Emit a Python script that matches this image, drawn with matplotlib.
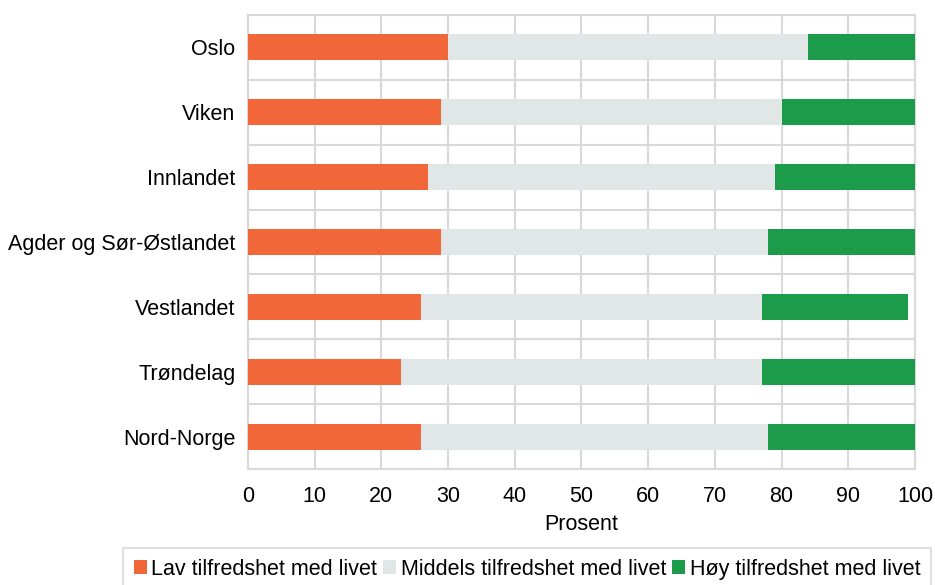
import matplotlib
matplotlib.use("Agg")
import matplotlib.pyplot as plt
import numpy as np

plt.rcParams['font.family'] = ['Liberation Sans', 'DejaVu Sans']

categories = ["Oslo", "Viken", "Innlandet", "Agder og Sør-Østlandet",
              "Vestlandet", "Trøndelag", "Nord-Norge"]
lav = [30, 29, 27, 29, 26, 23, 26]
middels = [54, 51, 52, 49, 51, 54, 52]
hoy = [16, 20, 21, 22, 22, 23, 22]
series_labels = ["Lav tilfredshet med livet", "Middels tilfredshet med livet",
                 "Høy tilfredshet med livet"]
colors = ["#F26739", "#E1E6E6", "#1C9C4A"]
xticks = [0, 10, 20, 30, 40, 50, 60, 70, 80, 90, 100]

FS = 15.5

fig = plt.figure(figsize=(9.35, 5.85), dpi=100)
ax = fig.add_axes([0.2652, 0.1983, 0.7134, 0.7761])

y = np.arange(len(categories))
left = np.zeros(len(categories))
for vals, lab, c in zip([lav, middels, hoy], series_labels, colors):
    ax.barh(y, vals, left=left, height=0.4, color=c, label=lab, zorder=3)
    left = left + np.array(vals)

ax.set_ylim(len(categories) - 0.5, -0.5)
ax.set_xlim(0, 100)
ax.set_xticks(xticks)
ax.set_yticks(y)
ax.set_yticklabels(categories)
ax.set_yticks(np.arange(len(categories) + 1) - 0.5, minor=True)
ax.grid(axis='x', color='#D9D9D9', linewidth=1.5, zorder=0)
ax.grid(axis='y', which='minor', color='#D9D9D9', linewidth=1.5, zorder=0)
ax.tick_params(axis='both', which='both', length=0, labelsize=FS, colors='black')
ax.tick_params(axis='x', pad=12)
ax.tick_params(axis='y', pad=9)
for s in ax.spines.values():
    s.set_color('#D9D9D9')
    s.set_linewidth(1.5)
ax.set_xlabel("Prosent", fontsize=FS, labelpad=5)

leg = fig.legend(loc='upper center', bbox_to_anchor=(0.5636, 0.063), ncol=3,
                 fontsize=FS, frameon=True, fancybox=False, edgecolor='#D9D9D9',
                 handlelength=0.6, handleheight=0.6, handletextpad=0.2,
                 columnspacing=0.3, borderpad=0.5, borderaxespad=0)
leg.get_frame().set_linewidth(1.5)

fig.savefig("out.png", dpi=100)
